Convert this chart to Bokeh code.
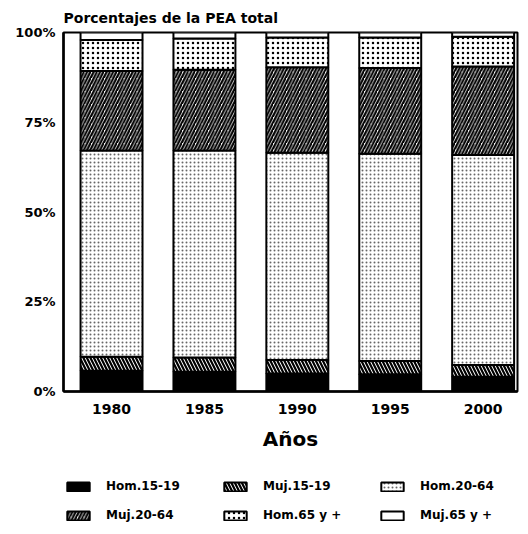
from bokeh.plotting import figure
from bokeh.layouts import column
from bokeh.models import Legend, LegendItem, FixedTicker, ColumnDataSource, Range1d
from bokeh.embed import file_html
from bokeh.resources import INLINE

# ---- data (percent of total economically active population) ----
years = ["1980", "1985", "1990", "1995", "2000"]
hom_15_19 = [5.8, 5.5, 5.0, 4.8, 4.1]
muj_15_19 = [3.9, 4.0, 3.8, 3.7, 3.3]
hom_20_64 = [57.4, 57.6, 57.7, 57.7, 58.5]
muj_20_64 = [22.2, 22.5, 23.8, 23.9, 24.6]
hom_65 = [8.6, 8.7, 8.3, 8.5, 8.3]
muj_65 = [2.1, 1.7, 1.4, 1.4, 1.2]
series_names = ["Hom.15-19", "Muj.15-19", "Hom.20-64", "Muj.20-64", "Hom.65 y +", "Muj.65 y +"]
y_ticks = [0, 25, 50, 75, 100]
y_tick_labels = ["0%", "25%", "50%", "75%", "100%"]

FONT = "DejaVu Sans"

keys = ["h1519", "m1519", "h2064", "m2064", "h65", "m65"]
source = ColumnDataSource(dict(
    x=list(range(len(years))),
    h1519=hom_15_19, m1519=muj_15_19, h2064=hom_20_64,
    m2064=muj_20_64, h65=hom_65, m65=muj_65,
))

fills = ["black", "white", "white", "white", "white", "white"]
hatches = [" ", "left_diagonal_line", "dot", "right_diagonal_line", "dot", " "]
scales = [4, 7, 4, 6.5, 5, 4]
weights = [1, 2.2, 1.2, 2.2, 2.4, 1]
hcolors = ["black", "black", "#666666", "black", "black", "black"]
style = dict(fill_color=fills, hatch_pattern=hatches, hatch_scale=scales,
             hatch_weight=weights, hatch_color=hcolors,
             line_color="black", line_width=2)

p = figure(frame_width=454, frame_height=359, output_backend="svg", toolbar_location=None,
           x_range=Range1d(-0.517, 4.37), y_range=Range1d(0, 100),
           min_border_left=63, min_border_right=5, min_border_top=32,
           min_border_bottom=70)

p.title.text = "Porcentajes de la PEA total"
p.title.text_font = FONT
p.title.text_font_size = "14px"
p.title.text_font_style = "bold"
p.title.text_color = "black"
p.title.align = "left"
p.title.standoff = 14

renderers = p.vbar_stack(keys, x="x", width=0.667, source=source, **style)

p.grid.visible = False
p.outline_line_color = "black"
p.outline_line_width = 2

p.yaxis.ticker = FixedTicker(ticks=y_ticks)
p.yaxis.major_label_overrides = {t: l for t, l in zip(y_ticks, y_tick_labels)}
p.xaxis.ticker = FixedTicker(ticks=list(range(len(years))))
p.xaxis.major_label_overrides = {i: y for i, y in enumerate(years)}
p.xaxis.axis_label = "Años"

for ax in (p.xaxis[0], p.yaxis[0]):
    ax.axis_line_color = "black"
    ax.axis_line_width = 2.5
    ax.major_tick_out = 0
    ax.major_tick_in = 0
    ax.minor_tick_out = 0
    ax.minor_tick_in = 0
    ax.major_label_text_font = FONT
    ax.major_label_text_font_style = "bold"
    ax.major_label_text_color = "black"

p.yaxis.major_label_text_font_size = "13px"
p.yaxis.major_label_standoff = 8
p.xaxis.major_label_text_font_size = "14px"
p.xaxis.major_label_standoff = 12
p.xaxis.axis_label_text_font = FONT
p.xaxis.axis_label_text_font_size = "20px"
p.xaxis.axis_label_text_font_style = "bold"
p.xaxis.axis_label_text_color = "black"
p.xaxis.axis_label_standoff = 10

# ---- legend strip under the chart (hidden proxies of the same stacked bars) ----
lg = figure(width=p.min_border_left + 454 + p.min_border_right, height=70,
            output_backend="svg", toolbar_location=None,
            x_range=Range1d(0, 1), y_range=Range1d(0, 1),
            min_border_left=0, min_border_right=0, min_border_top=0, min_border_bottom=0)
lg.axis.visible = False
lg.grid.visible = False
lg.outline_line_color = None

proxies = lg.vbar_stack(keys, x="x", width=0.667, source=source, **style)
for r in proxies:
    r.visible = False

legend = Legend(items=[LegendItem(label=n, renderers=[r]) for n, r in zip(series_names, proxies)],
                orientation="horizontal", ncols=3, location=(1, 6),
                glyph_width=28, glyph_height=11, label_standoff=14, label_width=106,
                label_height=20, spacing=9, padding=0, margin=0,
                border_line_color=None, background_fill_alpha=0,
                inactive_fill_alpha=0,
                label_text_font=FONT, label_text_font_size="12px",
                label_text_font_style="bold", label_text_color="black")
lg.add_layout(legend, "center")

layout = column(p, lg, spacing=0)
open("out.html", "w").write(file_html(layout, INLINE))
